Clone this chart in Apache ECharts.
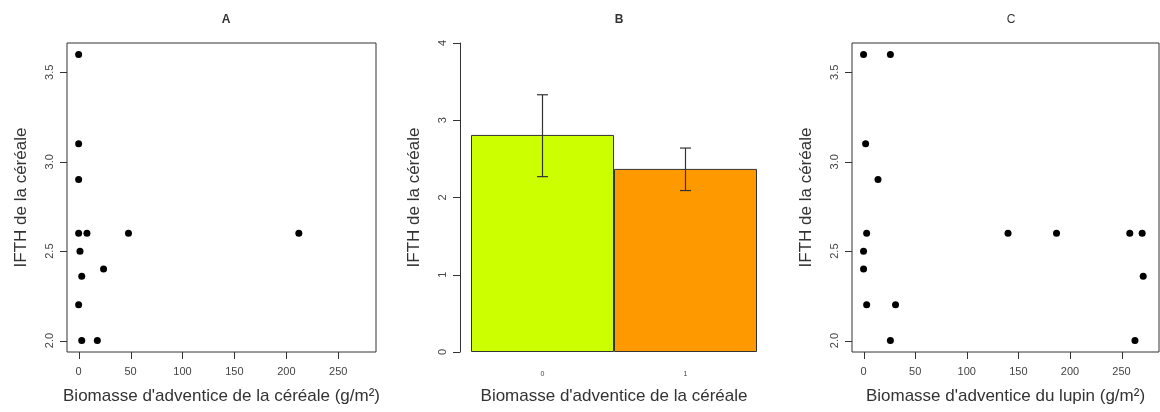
<!DOCTYPE html>
<html>
<head>
<meta charset="utf-8">
<script src="https://cdn.jsdelivr.net/npm/echarts@6/dist/echarts.min.js"></script>
<style>html,body{margin:0;padding:0;background:#fff}#c{width:1160px;height:412px}</style>
</head>
<body>
<div id="c"></div>
<script>
// Panel A: cereal weed biomass vs IFTH
const aX = [0, 0, 0, 0, 8, 48, 212, 1.3, 3, 24, 0, 3, 18];
const aY = [3.6, 3.1, 2.9, 2.6, 2.6, 2.6, 2.6, 2.5, 2.36, 2.4, 2.2, 2.0, 2.0];
// Panel B: bar means with error bars
const bCategories = ['0', '1'];
const bMeans = [2.81, 2.37];
const bLower = [2.27, 2.09];
const bUpper = [3.33, 2.64];
const bColors = ['#CCFF00', '#FF9900'];
// Panel C: lupin weed biomass vs IFTH
const cX = [0, 26, 2, 14, 3, 140, 187, 258, 270, 0, 0, 271, 3, 31, 26, 263];
const cY = [3.6, 3.6, 3.1, 2.9, 2.6, 2.6, 2.6, 2.6, 2.6, 2.5, 2.4, 2.36, 2.2, 2.2, 2.0, 2.0];
// Tick labels
const xTicks = [0, 50, 100, 150, 200, 250];
const yTicks = [2.0, 2.5, 3.0, 3.5];
const titles = ['A', 'B', 'C'];
const yTitle = 'IFTH de la céréale';
const xTitles = ["Biomasse d'adventice de la céréale (g/m²)", "Biomasse d'adventice de la céréale", "Biomasse d'adventice du lupin (g/m²)"];

// Axis ranges (R-style 4% padding)
const X_MIN = -11.2, X_MAX = 286.3, Y_MIN = 1.936, Y_MAX = 3.664;

const FONT = '"Liberation Sans", Arial, sans-serif';
const TXT = '#333';
const chart = echarts.init(document.getElementById('c'), null, {renderer: 'canvas'});

function scatterX(gi) {
  return {
    gridIndex: gi, type: 'value', min: X_MIN, max: X_MAX,
    axisLine: {show: false, onZero: false}, splitLine: {show: false},
    axisTick: {show: false},
    axisLabel: {customValues: xTicks, margin: 14, fontSize: 11, color: '#444', fontFamily: FONT},
    name: xTitles[gi], nameLocation: 'middle', nameGap: 36,
    nameTextStyle: {fontSize: 17, color: TXT, fontFamily: FONT}
  };
}
function scatterY(gi) {
  return {
    gridIndex: gi, type: 'value', min: Y_MIN, max: Y_MAX,
    axisLine: {show: false, onZero: false}, splitLine: {show: false},
    axisTick: {show: false},
    axisLabel: {customValues: yTicks, rotate: 90, margin: 12, fontSize: 11, color: '#444', fontFamily: FONT,
      formatter: v => Number(v).toFixed(1)},
    name: yTitle, nameLocation: 'middle', nameGap: 37,
    nameTextStyle: {fontSize: 17, color: TXT, fontFamily: FONT}
  };
}
// Outward tick marks drawn through the axes' own scales
function tickSeries(gi) {
  const st = {stroke: '#333', lineWidth: 1};
  return [
    {
      type: 'custom', xAxisIndex: gi, yAxisIndex: gi, clip: false, silent: true, z: 10,
      data: xTicks.map(v => [v, Y_MIN]),
      renderItem: (params, api) => {
        const p = api.coord([api.value(0), api.value(1)]);
        const x = Math.round(p[0]) + 0.5;
        return {type: 'line', shape: {x1: x, y1: p[1], x2: x, y2: p[1] + 7}, style: st};
      }
    },
    {
      type: 'custom', xAxisIndex: gi, yAxisIndex: gi, clip: false, silent: true, z: 10,
      data: yTicks.map(v => [X_MIN, v]),
      renderItem: (params, api) => {
        const p = api.coord([api.value(0), api.value(1)]);
        const y = Math.round(p[1]) + 0.5;
        return {type: 'line', shape: {x1: p[0], y1: y, x2: p[0] - 7, y2: y}, style: st};
      }
    }
  ];
}

const option = {
  animation: false,
  backgroundColor: '#fff',
  title: [
    {text: titles[0], left: 221, top: 9, textAlign: 'center', textStyle: {fontSize: 12, fontWeight: 'bold', color: TXT, fontFamily: FONT}},
    {text: titles[1], left: 614, top: 9, textAlign: 'center', textStyle: {fontSize: 12, fontWeight: 'bold', color: TXT, fontFamily: FONT}},
    {text: titles[2], left: 1006, top: 9, textAlign: 'center', textStyle: {fontSize: 12, fontWeight: 'normal', color: TXT, fontFamily: FONT}}
  ],
  grid: [
    {left: 67, top: 43, width: 309, height: 309, show: true, borderColor: '#333', borderWidth: 1, backgroundColor: 'transparent'},
    {left: 471, top: 43, width: 286, height: 309, show: false},
    {left: 852, top: 43, width: 307, height: 309, show: true, borderColor: '#333', borderWidth: 1, backgroundColor: 'transparent'}
  ],
  xAxis: [
    scatterX(0),
    {
      gridIndex: 1, type: 'category', data: bCategories,
      axisLine: {show: false, onZero: false}, axisTick: {show: false}, splitLine: {show: false},
      axisLabel: {margin: 19, fontSize: 7, color: '#444', fontFamily: FONT},
      name: xTitles[1], nameLocation: 'middle', nameGap: 36,
      nameTextStyle: {fontSize: 17, color: TXT, fontFamily: FONT}
    },
    scatterX(2)
  ],
  yAxis: [
    scatterY(0),
    {
      gridIndex: 1, type: 'value', min: 0, max: 4, interval: 1, offset: 11,
      axisLine: {show: true, onZero: false, lineStyle: {color: '#333'}}, splitLine: {show: false},
      axisTick: {show: true, inside: false, length: 7, lineStyle: {color: '#333'}},
      axisLabel: {rotate: 90, margin: 12, fontSize: 11, color: '#444', fontFamily: FONT},
      name: yTitle, nameLocation: 'middle', nameGap: 37,
      nameTextStyle: {fontSize: 17, color: TXT, fontFamily: FONT}
    },
    scatterY(2)
  ],
  series: [
    {
      type: 'scatter', xAxisIndex: 0, yAxisIndex: 0, symbolSize: 7,
      itemStyle: {color: '#000', opacity: 1},
      data: aX.map((x, i) => [x, aY[i]])
    },
    {
      type: 'bar', xAxisIndex: 1, yAxisIndex: 1, barWidth: '100%',
      data: bMeans.map((v, i) => ({value: v, itemStyle: {color: bColors[i], borderColor: '#333', borderWidth: 1}}))
    },
    {
      type: 'custom', xAxisIndex: 1, yAxisIndex: 1,
      data: bMeans.map((v, i) => [i, bLower[i], bUpper[i]]),
      encode: {x: 0, y: [1, 2]},
      renderItem: function (params, api) {
        const x = api.value(0);
        const lo = api.coord([x, api.value(1)]);
        const hi = api.coord([x, api.value(2)]);
        const h = 5.5;
        const st = {stroke: '#333', lineWidth: 1.2};
        return {type: 'group', children: [
          {type: 'line', shape: {x1: lo[0], y1: lo[1], x2: hi[0], y2: hi[1]}, style: st},
          {type: 'line', shape: {x1: hi[0] - h, y1: hi[1], x2: hi[0] + h, y2: hi[1]}, style: st},
          {type: 'line', shape: {x1: lo[0] - h, y1: lo[1], x2: lo[0] + h, y2: lo[1]}, style: st}
        ]};
      },
      z: 5
    },
    {
      type: 'scatter', xAxisIndex: 2, yAxisIndex: 2, symbolSize: 7,
      itemStyle: {color: '#000', opacity: 1},
      data: cX.map((x, i) => [x, cY[i]])
    },
    ...tickSeries(0),
    ...tickSeries(2)
  ]
};
chart.setOption(option);
</script>
</body>
</html>
